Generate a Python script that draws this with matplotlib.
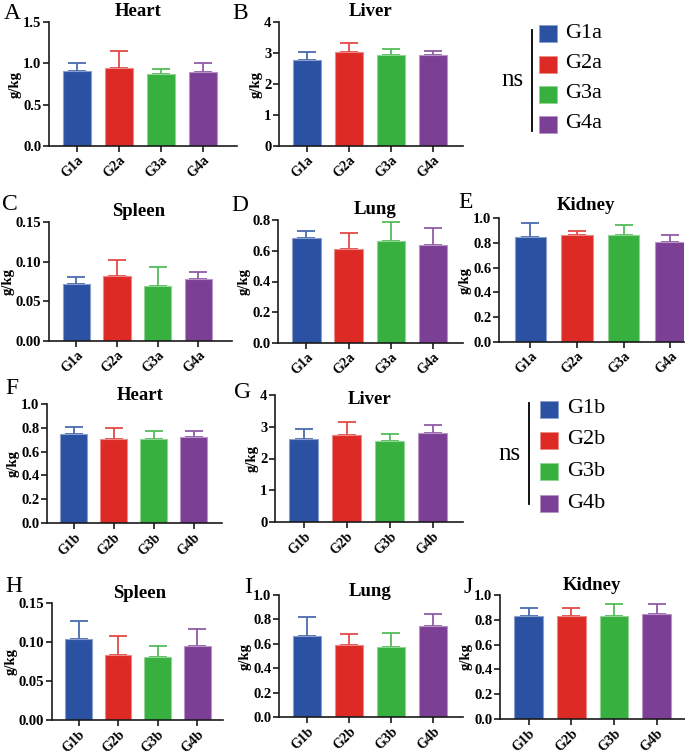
import matplotlib
matplotlib.use("Agg")
import matplotlib.pyplot as plt
from matplotlib.patches import Rectangle
from matplotlib.lines import Line2D
import matplotlib.colors as mc
import numpy as np

plt.rcParams['font.family'] = ['Liberation Serif', 'DejaVu Serif']

W, H = 685, 755

groups_a = ["G1a", "G2a", "G3a", "G4a"]
groups_b = ["G1b", "G2b", "G3b", "G4b"]
colors = ["#2a51a2", "#dd2a25", "#37b03f", "#7c3f96"]

# means and SD (upper error bars)
heart_a = [0.912, 0.944, 0.867, 0.900]
heart_a_err = [0.089, 0.211, 0.061, 0.100]
liver_a = [2.79, 3.03, 2.92, 2.93]
liver_a_err = [0.24, 0.30, 0.20, 0.12]
spleen_a = [0.0716, 0.0817, 0.0691, 0.0784]
spleen_a_err = [0.0089, 0.0207, 0.0240, 0.0084]
lung_a = [0.680, 0.609, 0.661, 0.635]
lung_a_err = [0.048, 0.104, 0.128, 0.115]
kidney_a = [0.849, 0.859, 0.865, 0.803]
kidney_a_err = [0.108, 0.038, 0.076, 0.056]

heart_b = [0.744, 0.710, 0.710, 0.721]
heart_b_err = [0.064, 0.090, 0.059, 0.054]
liver_b = [2.60, 2.73, 2.56, 2.79]
liver_b_err = [0.34, 0.41, 0.21, 0.26]
spleen_b = [0.1033, 0.0829, 0.0807, 0.0952]
spleen_b_err = [0.0237, 0.0246, 0.0145, 0.0212]
lung_b = [0.665, 0.592, 0.573, 0.743]
lung_b_err = [0.151, 0.089, 0.116, 0.098]
kidney_b = [0.827, 0.832, 0.832, 0.848]
kidney_b_err = [0.072, 0.067, 0.096, 0.080]

panels = [
    # letter, title, groups, means, errs, yticks, fmt, (left,right,top,bottom px), spacing px
    ("A", "Heart", groups_a, heart_a, heart_a_err, [0, 0.5, 1.0, 1.5], "{:.1f}", (49, 237, 22, 146), 42),
    ("B", "Liver", groups_a, liver_a, liver_a_err, [0, 1, 2, 3, 4], "{:.0f}", (279, 463, 22, 146), 42),
    ("C", "Spleen", groups_a, spleen_a, spleen_a_err, [0, 0.05, 0.10, 0.15], "{:.2f}", (49, 232, 222, 341), 40.7),
    ("D", "Lung", groups_a, lung_a, lung_a_err, [0, 0.2, 0.4, 0.6, 0.8], "{:.1f}", (278, 463, 220, 343), 42.3),
    ("E", "Kidney", groups_a, kidney_a, kidney_a_err, [0, 0.2, 0.4, 0.6, 0.8, 1.0], "{:.1f}", (499, 684, 218, 342), 46.7),
    ("F", "Heart", groups_b, heart_b, heart_b_err, [0, 0.2, 0.4, 0.6, 0.8, 1.0], "{:.1f}", (47, 222, 404, 523), 40),
    ("G", "Liver", groups_b, liver_b, liver_b_err, [0, 1, 2, 3, 4], "{:.0f}", (275, 463, 395, 522), 43),
    ("H", "Spleen", groups_b, spleen_b, spleen_b_err, [0, 0.05, 0.10, 0.15], "{:.2f}", (52, 223, 603, 720), 39.6),
    ("I", "Lung", groups_b, lung_b, lung_b_err, [0, 0.2, 0.4, 0.6, 0.8, 1.0], "{:.1f}", (279, 463, 595, 717), 42),
    ("J", "Kidney", groups_b, kidney_b, kidney_b_err, [0, 0.2, 0.4, 0.6, 0.8, 1.0], "{:.1f}", (500, 685, 595, 719), 42.7),
]

letter_pos = {"A": (4, 3), "B": (232, 3), "C": (2, 194), "D": (231, 195), "E": (458, 192),
              "F": (5, 378), "G": (234, 382), "H": (5, 576), "I": (244, 577), "J": (464, 577)}
title_pos = {"A": (138, 12), "B": (371, 12), "C": (139, 212), "D": (375, 210), "E": (586, 206),
             "F": (140, 395), "G": (370, 399), "H": (140, 594), "I": (370, 591), "J": (592, 585)}

fig = plt.figure(figsize=(W / 100, H / 100), dpi=100)


def rect(l, r, t, b):
    return [l / W, 1 - b / H, (r - l) / W, (b - t) / H]


def lighten(c, f=0.35):
    rgb = np.array(mc.to_rgb(c))
    return tuple(rgb + (1 - rgb) * f)


spine_c = "#1a1a1a"
for letter, title, grp, means, errs, yt, fmt, (l, r, t, b), s in panels:
    ax = fig.add_axes(rect(l, r, t, b))
    x = np.arange(len(grp))
    for i in range(len(grp)):
        ax.errorbar(x[i], means[i], yerr=[[0], [errs[i]]], fmt='none',
                    ecolor=lighten(colors[i], 0.15), elinewidth=1.3, capsize=6.5,
                    capthick=1.3, zorder=1)
        ax.bar(x[i], means[i], width=0.67, color=colors[i],
               edgecolor=lighten(colors[i], 0.45), linewidth=0.8, zorder=2)
    left_off = 0.67
    ax.set_xlim(-left_off, (r - l) / s - left_off)
    ax.set_ylim(0, yt[-1])
    ax.set_yticks(yt)
    ax.set_yticklabels([fmt.format(v) for v in yt], fontsize=10.5, fontweight='bold')
    ax.set_xticks(x)
    ax.set_xticklabels(grp, rotation=45, ha='right', rotation_mode='anchor',
                       fontsize=10, fontweight='bold')
    for sp in ['top', 'right']:
        ax.spines[sp].set_visible(False)
    for sp in ['left', 'bottom']:
        ax.spines[sp].set_linewidth(1.2)
        ax.spines[sp].set_color(spine_c)
    ax.tick_params(axis='both', width=1.2, color=spine_c, length=4, pad=1.5)
    ax.tick_params(axis='x', length=4, pad=1.5)
    ax.set_ylabel("g/kg", fontsize=10.5, fontweight='bold', labelpad=1)
    tx, ty = title_pos[letter]
    fig.text(tx / W, 1 - ty / H, title, fontsize=13.5, fontweight='bold',
             ha='center', va='center')
    lx, ly = letter_pos[letter]
    fig.text(lx / W, 1 - ly / H, letter, fontsize=17, va='top', ha='left')


def legend(line_x, y0, y1, sq_x, rows, text_x, ns_x, ns_y, labels):
    fig.add_artist(Line2D([line_x / W, line_x / W], [1 - y0 / H, 1 - y1 / H],
                          color='black', linewidth=1.3))
    for yc, lab, c in zip(rows, labels, colors):
        fig.add_artist(Rectangle((sq_x / W, 1 - (yc + 8.5) / H), 18 / W, 17 / H,
                                 facecolor=c, edgecolor=lighten(c, 0.45), linewidth=0.6))
        fig.text(text_x / W, 1 - yc / H, lab, fontsize=16, va='center', ha='left')
    fig.text(ns_x / W, 1 - ns_y / H, "ns", fontsize=18, va='center', ha='center')


legend(532, 30, 131, 539, [33, 64, 94, 124], 565, 512, 80, groups_a)
legend(529, 403, 504, 540, [409, 440, 471, 503], 567, 509, 454, groups_b)

fig.savefig("out.png", dpi=100)
